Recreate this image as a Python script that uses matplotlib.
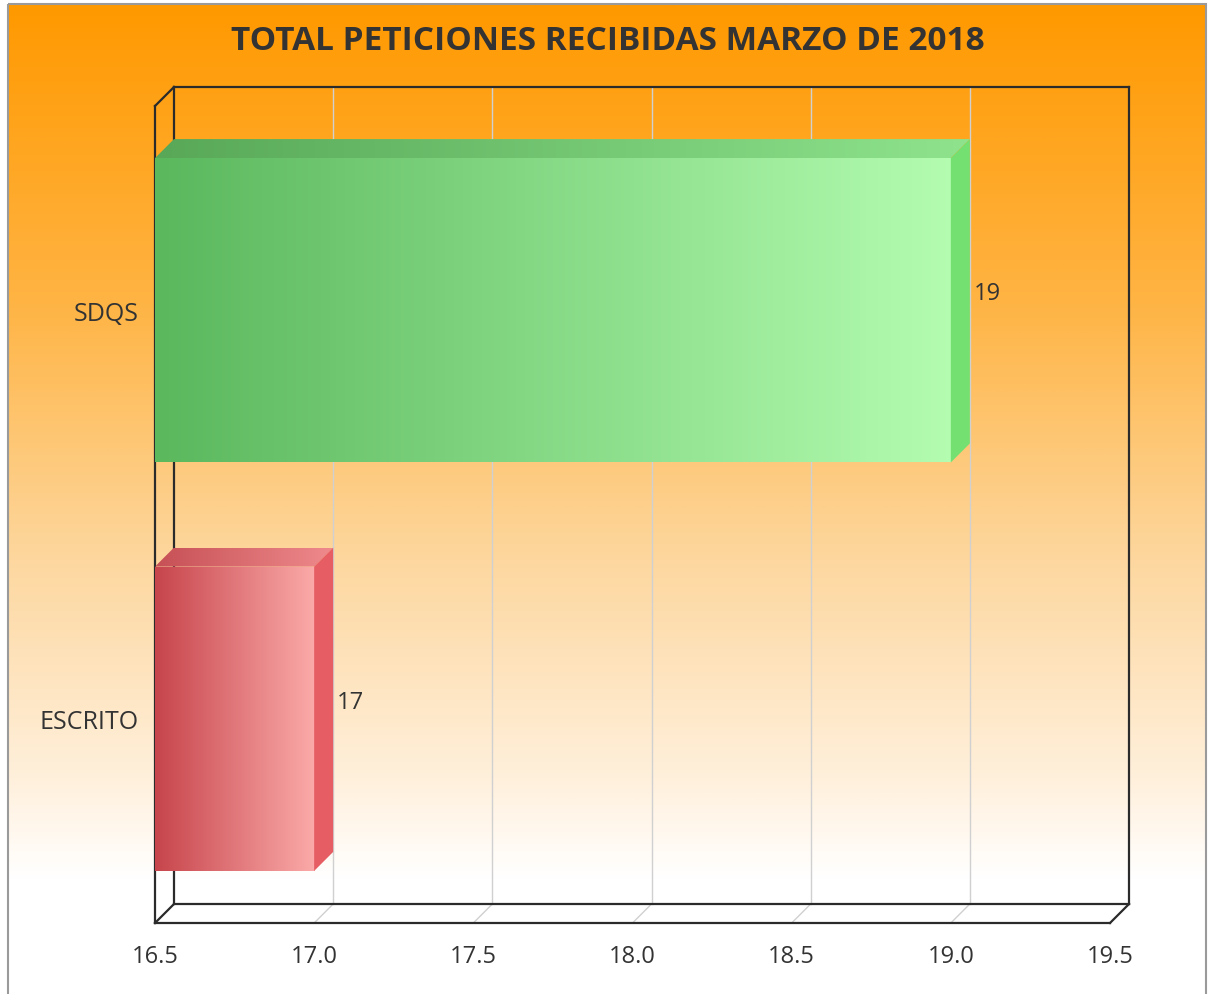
import numpy as np
import matplotlib
matplotlib.use("Agg")
import matplotlib.pyplot as plt
from matplotlib.patches import Polygon, Rectangle
from matplotlib import transforms
from matplotlib.colors import LinearSegmentedColormap

plt.rcParams['font.family'] = ['Open Sans', 'DejaVu Sans']

# ---- data ----
title = "TOTAL PETICIONES RECIBIDAS MARZO DE 2018"
categories = ["SDQS", "ESCRITO"]
values = [19, 17]
xticks = [16.5, 17.0, 17.5, 18.0, 18.5, 19.0, 19.5]
x_min, x_max = 16.5, 19.5

# styles
front_colors = [("#5bb85d", "#b3fcb0"), ("#c7454c", "#fbaaa9")]
top_colors = [("#58a858", "#8ee38c"), ("#c65055", "#ef8a8c")]
side_colors = ["#74e072", "#e65e63"]

W, H = 1214, 995
fig = plt.figure(figsize=(W / 100, H / 100), dpi=100)
fig.patch.set_facecolor("white")

# background axes in pixel coords
bg = fig.add_axes([0, 0, 1, 1])
bg.set_xlim(0, W)
bg.set_ylim(H, 0)
bg.axis("off")
grad_cmap = LinearSegmentedColormap.from_list(
    "bgg", [(0.0, "#ff9900"), (0.30, "#ffb444"), (0.55, "#fdd69c"), (0.78, "#fff0dc"), (0.88, "#ffffff"), (1.0, "#ffffff")])
g = np.linspace(0, 1, 512).reshape(-1, 1)
bg.imshow(g, cmap=grad_cmap, aspect="auto", extent=[8, 1206, 1000, 5], zorder=0)
bg.add_patch(Rectangle((8, 5), 1198, 1000, fill=False, edgecolor="#9a9a9a", lw=1.5, zorder=1))

# plot axes at the front plane
L, R, T, B = 155, 1110, 107, 924
D = 19  # depth in px
ax = fig.add_axes([L / W, 1 - B / H, (R - L) / W, (B - T) / H])
ax.set_facecolor("none")
ax.set_xlim(x_min, x_max)
ax.set_ylim(len(categories) - 0.5, -0.5)
for s in ax.spines.values():
    s.set_visible(False)

dxd = D * (x_max - x_min) / (R - L)          # depth in data x
dyd = D * len(categories) / (B - T)           # depth in category units (upwards = negative)

y0, y1 = len(categories) - 0.5, -0.5

# back-plane gridlines and floor gridlines
for xv in xticks[1:-1]:
    ax.plot([xv + dxd, xv + dxd], [y0 - dyd, y1 - dyd], color="#d0d0d0", lw=1, zorder=1, clip_on=False)
    ax.plot([xv, xv + dxd], [y0, y0 - dyd], color="#d0d0d0", lw=1, zorder=1, clip_on=False)

# frame lines
fc = "#2b2b2b"
lw = 1.6
frame = [
    ([x_min + dxd, x_max + dxd], [y1 - dyd, y1 - dyd]),      # back top
    ([x_max + dxd, x_max + dxd], [y1 - dyd, y0 - dyd]),      # back right
    ([x_min + dxd, x_min + dxd], [y1 - dyd, y0 - dyd]),      # back left
    ([x_min + dxd, x_max + dxd], [y0 - dyd, y0 - dyd]),      # back bottom
    ([x_min, x_min], [y1, y0]),                              # front left
    ([x_min, x_max], [y0, y0]),                              # front bottom
    ([x_min, x_min + dxd], [y1, y1 - dyd]),                  # top-left connector
    ([x_min, x_min + dxd], [y0, y0 - dyd]),                  # bottom-left connector
    ([x_max, x_max + dxd], [y0, y0 - dyd]),                  # bottom-right connector
]
for xs, ys in frame:
    ax.plot(xs, ys, color=fc, lw=lw, zorder=2, solid_capstyle="projecting", clip_on=False)

# bars
bar_h = 0.745
ypos = np.arange(len(categories))
bars = ax.barh(ypos, [v - x_min for v in values], left=x_min, height=bar_h,
               color="none", edgecolor="none", zorder=3)
for i, (rect, v) in enumerate(zip(bars, values)):
    x_l = rect.get_x()
    x_r = x_l + rect.get_width()
    yt = rect.get_y()
    yb = yt + rect.get_height()
    # front face gradient
    cm = LinearSegmentedColormap.from_list("f%d" % i, list(front_colors[i]))
    im = ax.imshow(np.linspace(0, 1, 256).reshape(1, -1), cmap=cm, aspect="auto",
                   extent=[x_l, x_r, yb, yt], zorder=4, interpolation="bilinear")
    im.set_clip_path(rect)
    # top face
    top = Polygon([[x_l, yt], [x_r, yt], [x_r + dxd, yt - dyd], [x_l + dxd, yt - dyd]],
                  closed=True, facecolor="none", edgecolor="none", zorder=4)
    ax.add_patch(top)
    cmt = LinearSegmentedColormap.from_list("t%d" % i, list(top_colors[i]))
    imt = ax.imshow(np.linspace(0, 1, 256).reshape(1, -1), cmap=cmt, aspect="auto",
                    extent=[x_l, x_r + dxd, yt, yt - dyd], zorder=4, interpolation="bilinear")
    imt.set_clip_path(top)
    # side face
    side = Polygon([[x_r, yt], [x_r + dxd, yt - dyd], [x_r + dxd, yb - dyd], [x_r, yb]],
                   closed=True, facecolor=side_colors[i], edgecolor="none", zorder=4)
    ax.add_patch(side)
    # value label at back plane
    ax.text(v + dxd, ypos[i] - dyd, f"{v}", transform=transforms.offset_copy(ax.transData, fig, x=4, y=-2, units="dots"),
            ha="left", va="center", fontsize=17, color="#333333", zorder=6)

ax.set_xlim(x_min, x_max)
ax.set_ylim(len(categories) - 0.5, -0.5)
ax.set_xticks(xticks)
ax.set_xticklabels([f"{t:.1f}" for t in xticks], fontsize=17, color="#333333")
ax.set_yticks(ypos)
ax.set_yticklabels(categories, fontsize=18, color="#333333")
ax.tick_params(axis="x", length=0, pad=15)
ax.tick_params(axis="y", length=0, pad=12)

fig.text(608 / W, 1 - 42 / H, title, ha="center", va="center", fontsize=24,
         fontweight="bold", color="#333333")

fig.savefig("out.png", dpi=100, facecolor=fig.get_facecolor())
